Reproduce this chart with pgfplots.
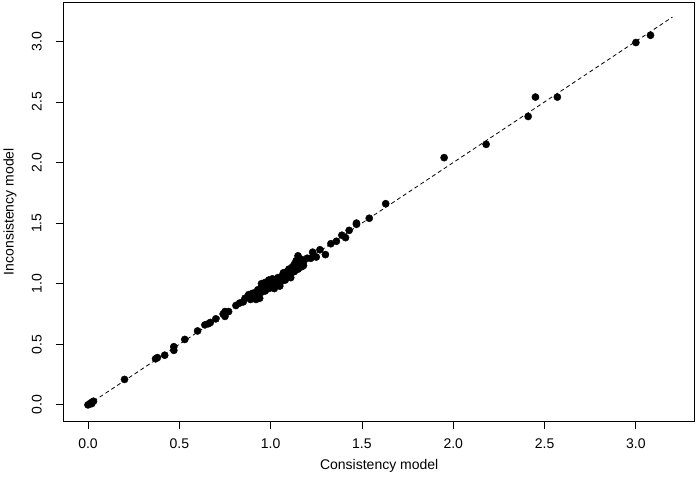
\documentclass[border=0pt]{standalone}
\usepackage{fontspec}
\setmainfont{Liberation Sans}
\usepackage{pgfplots}
\pgfplotsset{compat=1.18}
\pgfplotstableread{
x y
0.00 0.00
0.01 0.01
0.02 0.01
0.02 0.02
0.03 0.03
0.20 0.21
0.37 0.38
0.38 0.39
0.42 0.41
0.47 0.48
0.47 0.45
0.53 0.54
0.60 0.61
0.64 0.66
0.66 0.67
0.67 0.68
0.70 0.71
0.74 0.75
0.75 0.73
0.75 0.77
0.77 0.77
0.81 0.82
0.83 0.84
0.85 0.85
0.86 0.88
0.88 0.91
0.91 0.92
0.92 0.87
0.95 1.00
0.88 0.90
0.89 0.87
0.90 0.92
0.91 0.89
0.92 0.93
0.93 0.91
0.93 0.95
0.94 0.88
0.95 0.97
0.95 0.93
0.96 0.99
0.96 0.95
0.97 0.94
0.97 1.01
0.98 0.97
0.98 1.00
0.99 0.96
0.99 1.03
1.00 0.98
1.00 1.01
1.01 0.99
1.01 1.04
1.02 1.00
1.02 0.96
1.03 1.02
1.03 0.99
1.04 1.05
1.04 1.01
1.05 1.03
1.05 0.98
1.06 1.06
1.06 1.02
1.07 1.04
1.07 1.09
1.08 1.07
1.08 1.03
1.09 1.10
1.09 1.06
1.10 1.08
1.10 1.12
1.11 1.09
1.11 1.05
1.12 1.11
1.12 1.14
1.13 1.10
1.13 1.16
1.14 1.13
1.14 1.19
1.15 1.12
1.15 1.17
1.16 1.15
1.17 1.14
1.15 1.23
1.17 1.20
1.18 1.15
1.18 1.18
1.20 1.21
1.22 1.21
1.23 1.26
1.25 1.22
1.27 1.28
1.30 1.24
1.33 1.33
1.36 1.35
1.39 1.40
1.41 1.38
1.43 1.44
1.47 1.49
1.47 1.50
1.54 1.54
1.63 1.66
1.95 2.04
2.18 2.15
2.41 2.38
2.45 2.54
2.57 2.54
3.00 2.99
3.08 3.05
}\pts
\pgfplotstableread{
x y
0 0
3.2 3.2
}\refline
\begin{document}
\begin{tikzpicture}
\useasboundingbox (-63.7pt,-66pt) rectangle (635.3pt,421pt);
\begin{axis}[
  at={(0pt,0pt)}, anchor=south west,
  scale only axis,
  width=631pt, height=418.7pt,
  xmin=-0.133, xmax=3.322,
  ymin=-0.133, ymax=3.322,
  axis line style={line width=0.9pt, black},
  xtick={0,0.5,...,3.0},
  ytick={0,0.5,...,3.0},
  xtick pos=bottom, ytick pos=left,
  tick align=outside,
  major tick length=8pt,
  tick style={line width=0.8pt, black},
  /pgf/number format/assume math mode=true,
  /pgf/number format/fixed,
  /pgf/number format/fixed zerofill,
  /pgf/number format/precision=1,
  xticklabel style={font=\fontsize{14}{16}\selectfont, anchor=center, yshift=-15pt},
  yticklabel style={font=\fontsize{14}{16}\selectfont, anchor=center, rotate=90, yshift=19pt},
  xlabel={Consistency model},
  ylabel={Inconsistency model},
  xlabel style={font=\fontsize{14}{16}\selectfont, at={(axis description cs:0.5,-0.1075)}, anchor=center},
  ylabel style={font=\fontsize{14}{16}\selectfont, at={(axis description cs:-0.085,0.5)}, anchor=center, rotate=0},
  clip=false,
]
\addplot[black, line width=0.8pt, dash pattern=on 4pt off 3pt] table {\refline};
\addplot[only marks, mark=*, mark size=3.6pt, black, mark options={draw=black, fill=black}] table {\pts};
\end{axis}
\end{tikzpicture}
\end{document}
